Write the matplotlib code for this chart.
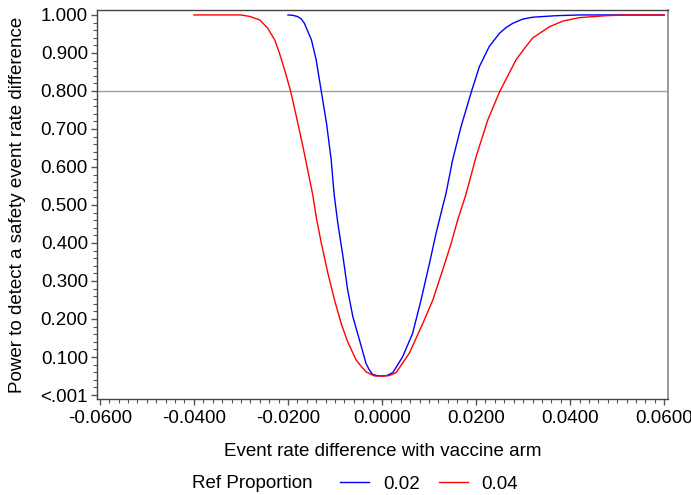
import matplotlib
matplotlib.use("Agg")
import matplotlib.pyplot as plt
from matplotlib.ticker import MultipleLocator, FixedLocator
from matplotlib.lines import Line2D

plt.rcParams['font.family'] = ['Liberation Sans', 'DejaVu Sans']

# Series: ref proportion 0.02 (blue)
diff_02 = [-0.0200, -0.0190, -0.0180, -0.0172, -0.0165, -0.0150, -0.0140, -0.0129, -0.0118,
           -0.0108, -0.0102, -0.0094, -0.0083, -0.0073, -0.0062, -0.0048, -0.0034, -0.0027,
           -0.0020, -0.0010, 0.0000, 0.0010, 0.0023, 0.0044, 0.0065, 0.0083, 0.0101,
           0.0115, 0.0129, 0.0136, 0.0150, 0.0168, 0.0190, 0.0207, 0.0228, 0.0250, 0.0264,
           0.0278, 0.0299, 0.0320, 0.0370, 0.0420, 0.0500, 0.0600]
power_02 = [1.000, 0.999, 0.996, 0.990, 0.978, 0.934, 0.882, 0.798, 0.715,
            0.618, 0.530, 0.452, 0.364, 0.276, 0.206, 0.145, 0.083, 0.066,
            0.054, 0.051, 0.050, 0.051, 0.059, 0.101, 0.162, 0.250, 0.347,
            0.426, 0.496, 0.530, 0.618, 0.706, 0.798, 0.864, 0.917, 0.952, 0.967,
            0.978, 0.989, 0.994, 0.998, 1.000, 1.000, 1.000]

# Series: ref proportion 0.04 (red)
diff_04 = [-0.0400, -0.0300, -0.0281, -0.0260, -0.0243, -0.0228, -0.0218, -0.0207, -0.0194,
           -0.0182, -0.0168, -0.0158, -0.0147, -0.0140, -0.0129, -0.0115, -0.0101, -0.0087,
           -0.0073, -0.0055, -0.0044, -0.0034, -0.0016, 0.0000, 0.0015, 0.0030, 0.0058,
           0.0087, 0.0108, 0.0129, 0.0147, 0.0161, 0.0178, 0.0200, 0.0225, 0.0250, 0.0285,
           0.0303, 0.0320, 0.0356, 0.0385, 0.0420, 0.0476, 0.0520, 0.0600]
power_04 = [1.000, 1.000, 0.996, 0.987, 0.965, 0.934, 0.899, 0.855, 0.798,
            0.732, 0.653, 0.592, 0.525, 0.469, 0.399, 0.320, 0.250, 0.189,
            0.140, 0.092, 0.075, 0.061, 0.050, 0.050, 0.051, 0.059, 0.110,
            0.189, 0.250, 0.329, 0.399, 0.461, 0.526, 0.627, 0.724, 0.798, 0.882,
            0.912, 0.939, 0.969, 0.984, 0.993, 0.998, 1.000, 1.000]

ref_line = 0.8
series_labels = ['0.02', '0.04']
legend_title = 'Ref Proportion'
x_ticks = [-0.06, -0.04, -0.02, 0.0, 0.02, 0.04, 0.06]
x_ticklabels = ['-0.0600', '-0.0400', '-0.0200', '0.0000', '0.0200', '0.0400', '0.0600']
y_ticks = [0.0, 0.1, 0.2, 0.3, 0.4, 0.5, 0.6, 0.7, 0.8, 0.9, 1.0]
y_ticklabels = ['<.001', '0.100', '0.200', '0.300', '0.400', '0.500', '0.600',
                '0.700', '0.800', '0.900', '1.000']

FS = 13.5

fig = plt.figure(figsize=(6.91, 4.95), dpi=100)
ax = fig.add_axes([97/691, 1 - 399/495, (667.5 - 97)/691, (399 - 10)/495])

ax.axhline(ref_line, color='#a0a0a0', lw=1.0, zorder=1)
ax.plot(diff_02, power_02, color='#0000ff', lw=1.0, zorder=2)
ax.plot(diff_04, power_04, color='#ff0000', lw=1.0, zorder=3)

ax.set_xlim(-0.0606, 0.0607)
ax.set_ylim(-0.0105, 1.013)

ax.xaxis.set_major_locator(FixedLocator(x_ticks))
ax.set_xticklabels(x_ticklabels)
ax.xaxis.set_minor_locator(MultipleLocator(0.002))
ax.yaxis.set_major_locator(FixedLocator(y_ticks))
ax.set_yticklabels(y_ticklabels)
ax.yaxis.set_minor_locator(MultipleLocator(0.02))

ax.tick_params(axis='both', which='major', length=4, width=1, color='#555555',
               labelsize=FS, labelcolor='black')
ax.tick_params(axis='x', which='major', pad=4)
ax.tick_params(axis='y', which='major', pad=2.5)
ax.tick_params(axis='both', which='minor', length=3, width=0.8, color='#555555')

for side in ['left', 'bottom', 'top']:
    ax.spines[side].set_color('#444444')
    ax.spines[side].set_linewidth(1)
ax.spines['right'].set_color('#888888')
ax.spines['right'].set_linewidth(1.2)

ax.set_xlabel('Event rate difference with vaccine arm', fontsize=FS)
ax.set_ylabel('Power to detect a safety event rate difference', fontsize=FS)
ax.xaxis.set_label_coords(0.5, -(452 - 399) / 389)
ax.xaxis.label.set_va('center')
ax.yaxis.set_label_coords(-(97 - 18) / 570.5, 0.5)
ax.yaxis.label.set_va('center')

fig.text(192/691, 1 - 484/495, legend_title, fontsize=FS, va='center', ha='left')
handles = [Line2D([], [], color='#0000ff', lw=1.0), Line2D([], [], color='#ff0000', lw=1.0)]
fig.legend(handles, series_labels, loc='center left', bbox_to_anchor=(340/691, 1 - 484/495),
           ncol=2, frameon=False, fontsize=FS, handlelength=1.55, handletextpad=0.75,
           columnspacing=1.0, borderpad=0, borderaxespad=0)

fig.savefig('out.png', dpi=100)
